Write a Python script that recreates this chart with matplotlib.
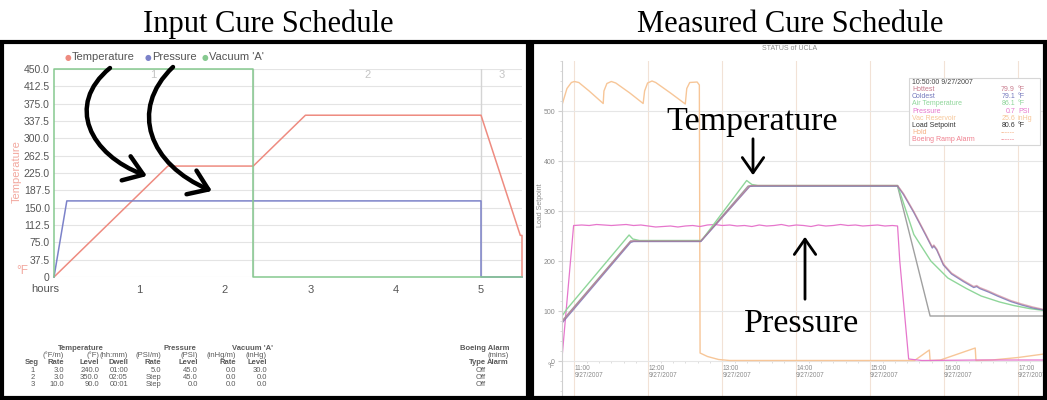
import numpy as np
import matplotlib
matplotlib.use("Agg")
import matplotlib.pyplot as plt
from matplotlib.patches import Rectangle, FancyArrowPatch
from matplotlib.path import Path
from matplotlib.ticker import MultipleLocator

# ---------------- input cure schedule ----------------
seg_bounds = [0.0, 2.333, 5.0, 5.48]
seg_names = ["1", "2", "3"]
temp_hours = [0, 1.333, 2.333, 2.944, 5.0, 5.46, 5.48, 5.48]
temp_degF = [0, 240, 240, 350, 350, 90, 90, 0]
press_hours = [0, 0.15, 5.0, 5.0, 5.48]
press_psi = [0, 45, 45, 0, 0]
vac_hours = [0, 0, 2.333, 2.333, 5.48]
vac_inhg = [0, 30, 30, 0, 0]
temp_ticks = [0, 37.5, 75.0, 112.5, 150.0, 187.5, 225.0, 262.5, 300.0,
              337.5, 375.0, 412.5, 450.0]
hour_ticks = [1, 2, 3, 4, 5]

# schedule table
table_seg = ["1", "2", "3"]
temp_rate = ["3.0", "3.0", "10.0"]
temp_level = ["240.0", "350.0", "90.0"]
temp_dwell = ["01:00", "02:05", "00:01"]
press_rate = ["5.0", "Step", "Step"]
press_level = ["45.0", "45.0", "0.0"]
vac_rate = ["0.0", "0.0", "0.0"]
vac_level = ["30.0", "0.0", "0.0"]
alarm_type = ["Off", "Off", "Off"]

# ---------------- measured cure log (clock hours) ----------------
setpoint_t = [10.833, 11.76, 12.71, 13.35, 15.37, 15.81, 17.35]
setpoint_v = [80, 240, 240, 350, 350, 90, 90]

probe_t = [10.833, 11.76, 11.80, 12.71, 13.37, 13.42, 15.37, 15.45, 15.59,
           15.75, 15.84, 15.86, 15.90, 15.99, 16.10, 16.26, 16.40, 16.44,
           16.48, 16.60, 16.72, 16.90, 17.05, 17.20, 17.35]
coldest_v = [76, 237, 239, 239, 349, 350, 350, 333, 297, 252, 226, 230, 222,
             192, 174, 159, 147, 149, 145, 138, 130, 119, 112, 106, 102]
hottest_v = [78, 239, 240, 240, 350, 351, 351, 335, 299, 254, 228, 232, 224,
             194, 176, 161, 149, 151, 147, 140, 132, 121, 114, 108, 103]

air_t = [10.833, 10.90, 11.74, 11.79, 11.88, 12.71, 12.74, 13.33, 13.40,
         13.48, 15.37, 15.45, 15.59, 15.82, 16.05, 16.30, 16.50, 16.75,
         16.94, 17.15, 17.35]
air_v = [90, 104, 252, 244, 241, 241, 245, 361, 353, 351, 351, 316, 253,
         200, 166, 145, 130, 118, 111, 105, 101]

press_log_t = ([10.833, 10.99] + [round(11.1 + 0.1 * i, 2) for i in range(43)]
               + [15.37, 15.40, 15.52, 15.70, 16.50, 17.35])
press_log_v = ([6, 271,
                272, 271, 273, 272, 271, 272, 273, 271, 272, 270, 268, 269,
                270, 268, 270, 271, 269, 272, 273, 271, 272, 270, 271, 269,
                272, 270, 271, 273, 270, 272, 271, 269, 272, 270, 271, 273,
                271, 272, 270, 271, 272, 270, 271]
               + [270, 200, 4, 1, 2, 2])

vac_log_t = [10.833, 10.90, 10.96, 11.00, 11.06, 11.20, 11.39, 11.40, 11.44,
             11.50, 11.56, 11.75, 11.93, 11.95, 11.99, 12.05, 12.10, 12.30,
             12.50, 12.52, 12.56, 12.66, 12.69, 12.70, 12.80, 12.95, 13.10,
             15.60, 15.80, 15.81, 15.95, 16.42, 16.43, 16.65, 17.00, 17.35]
vac_log_v = [512, 545, 557, 559, 557, 540, 515, 540, 555, 559, 556, 536, 515,
             540, 556, 560, 557, 536, 514, 545, 557, 558, 552, 16, 9, 3, 1, 1,
             22, 1, 2, 26, 1, 2, 7, 14]

log_hours = [11, 12, 13, 14, 15, 16, 17]
log_date = "9/27/2007"
load_ticks = [0, 100, 200, 300, 400, 500]

legend_names = ["Hottest", "Coldest", "Air Temperature", "Pressure",
                "Vac Reservoir", "Load Setpoint", "Hold", "Boeing Ramp Alarm"]
legend_vals = ["79.9", "79.1", "86.1", "0.7", "25.6", "80.6", "------", "------"]
legend_units = ["°F", "°F", "°F", "PSI", "inHg", "°F", "", ""]

# colours
C_TEMP = "#ee8b80"
C_PRES = "#7c82c9"
C_VAC = "#86c98f"
C_HOT = "#c87a8c"
C_COLD = "#7478bc"
C_AIR = "#8fd69a"
C_PLOG = "#e676cc"
C_VLOG = "#f7c698"
C_SET = "#a0a0a0"
legend_colors = [C_HOT, C_COLD, C_AIR, C_PLOG, C_VLOG, "#333333", "#f5b082",
                 "#f0808f"]

W, H = 1047, 400
plt.rcParams["font.family"] = ["Liberation Sans", "DejaVu Sans"]
fig = plt.figure(figsize=(W / 100, H / 100), dpi=100)
fig.patch.set_facecolor("white")


def fx(x):
    return x / W


def fy(y):
    return 1 - y / H


def rect(x0, y0, x1, y1):
    return [fx(x0), fy(y1), (x1 - x0) / W, (y1 - y0) / H]


SERIF = ["Liberation Serif", "DejaVu Serif"]
GREY = "#555555"

# ---------- titles ----------
fig.text(fx(268), fy(32), "Input Cure Schedule", family=SERIF, size=22,
         ha="center", va="baseline")
fig.text(fx(790), fy(32), "Measured Cure Schedule", family=SERIF, size=22,
         ha="center", va="baseline")

# ================= left: programmed schedule =================
ax1 = fig.add_axes(rect(54, 69, 522, 277))
ax1.set_xlim(seg_bounds[0], seg_bounds[-1])
ax1.set_ylim(0, 450)
ax1.set_yticks(temp_ticks, ["0"] + [f"{v:.1f}" for v in temp_ticks[1:]])
ax1.set_xticks(hour_ticks, [str(h) for h in hour_ticks])
ax1.tick_params(axis="y", length=0, labelsize=7.5, labelcolor=GREY, pad=3)
ax1.tick_params(axis="x", length=0, labelsize=8, labelcolor=GREY, pad=6)
ax1.grid(axis="y", color="#e4e4e4", lw=0.8)
ax1.set_axisbelow(True)
for s in ax1.spines.values():
    s.set_visible(False)

for b in seg_bounds[1:-1]:
    ax1.axvline(b, color="#d4d4d4", lw=1, zorder=1)
for a, b, name in zip(seg_bounds[:-1], seg_bounds[1:], seg_names):
    ax1.text((a + b) / 2, 437, name, ha="center", va="center", size=8,
             color="#c4c4c4")

ax1.plot(temp_hours, temp_degF, color=C_TEMP, lw=1.1, zorder=3, clip_on=False)

axp = ax1.twinx()
axp.set_ylim(0, 123)
axp.axis("off")
axp.plot(press_hours, press_psi, color=C_PRES, lw=1.1, clip_on=False)

axv = ax1.twinx()
axv.set_ylim(0, 30)
axv.axis("off")
axv.plot(vac_hours, vac_inhg, color=C_VAC, lw=1.1, clip_on=False)

# legend row
for dot_x, name, col in [(68, "Temperature", C_TEMP), (148, "Pressure", C_PRES),
                         (205, "Vacuum 'A'", C_VAC)]:
    fig.text(fx(dot_x), fy(57.5), "●", color=col, size=5.5, ha="center",
             va="center", family="DejaVu Sans")
    fig.text(fx(dot_x + 4), fy(57), name, color=GREY, size=8, ha="left",
             va="center")

fig.text(fx(17), fy(172), "Temperature", rotation=90, color="#f2a89f", size=8,
         ha="center", va="center")
fig.text(fx(22), fy(271), "°F", color="#f2a89f", size=8.5, ha="center",
         va="center")
fig.text(fx(45), fy(289), "hours", color=GREY, size=8, ha="center",
         va="center")

# curved pointers
for verts in ([(110, 68), (65, 105), (90, 155), (147, 176)],
              [(173, 67), (128, 110), (150, 165), (212, 191)]):
    path = Path([(fx(x), fy(y)) for x, y in verts],
                [Path.MOVETO, Path.CURVE4, Path.CURVE4, Path.CURVE4])
    arr = FancyArrowPatch(path=path,
                          arrowstyle="->,head_length=0.6,head_width=0.42",
                          mutation_scale=22, lw=3.2, color="black",
                          transform=fig.transFigure, zorder=6)
    fig.add_artist(arr)

# schedule table
TS = 5.5
TC = "#5a5a5a"
row_y = [348, 355.5, 363, 370.5, 377.5, 384.5]
fig.text(fx(81), fy(row_y[0]), "Temperature", size=TS, color=TC, weight="bold",
         ha="center", va="center")
fig.text(fx(180), fy(row_y[0]), "Pressure", size=TS, color=TC, weight="bold",
         ha="center", va="center")
fig.text(fx(252), fy(row_y[0]), "Vacuum 'A'", size=TS, color=TC, weight="bold",
         ha="center", va="center")
fig.text(fx(509), fy(row_y[0]), "Boeing Alarm", size=TS, color=TC,
         weight="bold", ha="right", va="center")
col_right = [64, 99, 128, 161, 198, 236, 267]
units = ["(°F/m)", "(°F)", "(hh:mm)", "(PSI/m)", "(PSI)", "(inHg/m)", "(inHg)"]
heads = ["Rate", "Level", "Dwell", "Rate", "Level", "Rate", "Level"]
for x, u, h in zip(col_right, units, heads):
    fig.text(fx(x), fy(row_y[1]), u, size=TS, color=TC, ha="right", va="center")
    fig.text(fx(x), fy(row_y[2]), h, size=TS, color=TC, ha="right",
             va="center", weight="bold")
fig.text(fx(509), fy(row_y[1]), "(mins)", size=TS, color=TC, ha="right",
         va="center")
fig.text(fx(32), fy(row_y[2]), "Seg", size=TS, color=TC, ha="center",
         va="center", weight="bold")
fig.text(fx(486), fy(row_y[2]), "Type", size=TS, color=TC, ha="right",
         va="center", weight="bold")
fig.text(fx(509), fy(row_y[2]), "Alarm", size=TS, color=TC, ha="right",
         va="center", weight="bold")
cols = [temp_rate, temp_level, temp_dwell, press_rate, press_level, vac_rate,
        vac_level]
for r in range(3):
    y = fy(row_y[3 + r])
    fig.text(fx(33), y, table_seg[r], size=TS, color=TC, ha="center", va="center")
    for x, col in zip(col_right, cols):
        fig.text(fx(x), y, col[r], size=TS, color=TC, ha="right", va="center")
    fig.text(fx(486), y, alarm_type[r], size=TS, color=TC, ha="right",
             va="center")

# ================= right: logged run =================
ax2 = fig.add_axes(rect(562, 61, 1044, 396))
ax2.set_xlim(10.833, 17.35)
ax2.set_ylim(-70, 600)
for k in ("top", "right"):
    ax2.spines[k].set_visible(False)
ax2.spines["left"].set_color("#cfcfcf")
ax2.spines["left"].set_linewidth(0.8)
ax2.spines["bottom"].set_position(("data", 0))
ax2.spines["bottom"].set_color("none")
ax2.set_yticks(load_ticks, [str(v) for v in load_ticks])
ax2.yaxis.set_minor_locator(MultipleLocator(20))
ax2.set_xticks(log_hours, [f"{h}:00\n{log_date}" for h in log_hours])
ax2.xaxis.set_minor_locator(MultipleLocator(1 / 6))
for lab in ax2.get_xticklabels():
    lab.set_horizontalalignment("left")
    lab.set_linespacing(1.0)
ax2.tick_params(axis="y", which="major", length=3, color="#cfcfcf",
                labelsize=5, labelcolor="#8a8a8a", pad=2)
ax2.tick_params(axis="y", which="minor", length=1.5, color="#d8d8d8")
ax2.tick_params(axis="x", which="major", length=0, labelsize=4.7,
                labelcolor="#8a8a8a", pad=3)
ax2.tick_params(axis="x", which="minor", length=1.5, color="#d8d8d8")
ax2.grid(axis="x", color="#f2e2d6", lw=0.8)
ax2.grid(axis="y", color="#e6e6e6", lw=0.8)
ax2.set_axisbelow(True)

ax2.plot(vac_log_t, vac_log_v, color=C_VLOG, lw=1)
ax2.plot(press_log_t, press_log_v, color=C_PLOG, lw=0.9)
ax2.plot(setpoint_t, setpoint_v, color=C_SET, lw=1)
ax2.plot(air_t, air_v, color=C_AIR, lw=1)
ax2.plot(probe_t, coldest_v, color=C_COLD, lw=1, alpha=0.85)
ax2.plot(probe_t, hottest_v, color=C_HOT, lw=1, alpha=0.6)

fig.text(fx(790), fy(48.5), "STATUS of UCLA", size=5, color="#8a8a8a",
         ha="center", va="center")
fig.text(fx(541), fy(205), "Load Setpoint", rotation=90, size=5,
         color="#8a8a8a", ha="center", va="center")
fig.text(fx(551), fy(367), "°F", size=5, color="#8a8a8a", ha="center",
         va="center")

# status box
fig.add_artist(Rectangle((fx(909), fy(145)), 131 / W, 67 / H,
                         transform=fig.transFigure, facecolor="white",
                         edgecolor="#d6d6d6", lw=0.8, zorder=5))
LS = 5
fig.text(fx(912), fy(82.7), "10:50:00 9/27/2007", size=LS, color="#444444",
         ha="left", va="center", zorder=6)
for i, (nm, val, un, col) in enumerate(zip(legend_names, legend_vals,
                                           legend_units, legend_colors)):
    y = fy(89.5 + 7.2 * i)
    fig.text(fx(912), y, nm, size=LS, color=col, ha="left", va="center",
             zorder=6)
    fig.text(fx(1015), y, val, size=LS, color=col, ha="right", va="center",
             zorder=6)
    if un:
        fig.text(fx(1018), y, un, size=LS, color=col, ha="left", va="center",
                 zorder=6)

# annotations on the logged run
fig.text(fx(752), fy(130), "Temperature", family=SERIF, size=24.5,
         ha="center", va="baseline", zorder=6)
fig.text(fx(802), fy(332), "Pressure", family=SERIF, size=24.5,
         ha="center", va="baseline", zorder=6)
for (x0, y0), (x1, y1) in [((753, 136), (753, 178)), ((805, 302), (805, 234))]:
    fig.add_artist(FancyArrowPatch((fx(x0), fy(y0)), (fx(x1), fy(y1)),
                                   arrowstyle="->,head_length=0.5,head_width=0.35",
                                   mutation_scale=22, lw=2, color="black",
                                   transform=fig.transFigure, zorder=6))

# panel frames
for x0, x1 in [(2, 528), (532, 1045)]:
    fig.add_artist(Rectangle((fx(x0), fy(398)), (x1 - x0) / W, 356 / H,
                             transform=fig.transFigure, fill=False,
                             edgecolor="black", lw=3, zorder=10))

fig.savefig("out.png", dpi=100)
